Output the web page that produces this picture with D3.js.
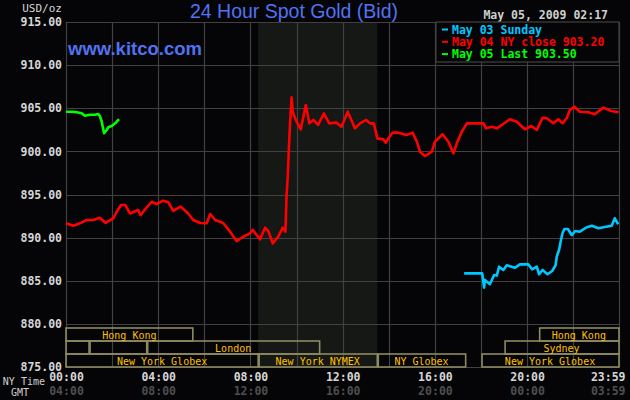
<!DOCTYPE html>
<html>
<head>
<meta charset="utf-8">
<script src="https://cdn.jsdelivr.net/npm/d3@7"></script>
<style>
  html, body { margin: 0; padding: 0; background: #050507; }
  svg { display: block; }
</style>
</head>
<body>
<div id="chart"></div>
<script>
// prices as [minutes after midnight NY time, USD/oz]
var nyClose = [[0,891.66],[19,891.38],[36,891.66],[54,892.04],[71,892.04],[88,892.31],[103,891.7],[123,892.24],[132,893.0],[143,893.78],[154,893.78],[167,892.8],[188,893.2],[194,892.6],[208,893.4],[223,894.16],[236,893.9],[253,894.28],[266,894.1],[279,893.1],[298,893.6],[318,892.8],[331,892.04],[349,891.7],[366,891.66],[375,892.74],[388,892.04],[409,891.7],[427,890.69],[444,889.6],[461,890.1],[479,890.5],[486,890.9],[496,890.3],[505,889.8],[518,891.15],[526,890.8],[538,889.34],[552,890.1],[564,891.15],[571,890.69],[574,894.94],[577,897.07],[580,900.36],[583,903.25],[587,906.27],[590,904.6],[600,903.44],[611,902.56],[624,905.38],[633,903.25],[644,903.64],[656,903.06],[671,904.41],[685,903.25],[704,903.33],[717,902.86],[733,904.6],[752,902.67],[765,903.25],[781,903.64],[791,903.25],[801,903.25],[810,901.51],[826,901.39],[832,901.0],[843,901.78],[850,902.17],[865,902.17],[886,901.9],[902,902.17],[913,901.12],[921,899.96],[934,899.46],[952,899.96],[960,901.12],[980,901.98],[995,901.12],[1008,899.77],[1017,900.93],[1030,902.28],[1043,903.25],[1060,903.25],[1086,903.25],[1093,902.67],[1108,902.86],[1121,902.67],[1134,903.06],[1155,903.72],[1173,903.44],[1194,902.56],[1211,902.94],[1225,902.48],[1240,903.9],[1251,903.84],[1268,903.25],[1281,903.72],[1292,903.25],[1303,903.84],[1311,904.8],[1323,905.18],[1337,904.6],[1359,904.53],[1376,904.3],[1398,905.07],[1416,904.72],[1438,904.53]];
var sunday = [[1036,885.86],[1083,885.86],[1088,884.2],[1090,885.1],[1103,884.6],[1114,885.67],[1121,885.6],[1127,886.63],[1138,886.25],[1147,886.8],[1168,886.5],[1181,886.9],[1203,886.9],[1213,886.33],[1225,886.63],[1231,885.75],[1240,886.25],[1253,885.75],[1265,886.13],[1274,886.8],[1277,887.79],[1283,888.57],[1288,889.72],[1292,890.5],[1297,891.0],[1306,891.0],[1316,890.3],[1325,890.77],[1337,890.69],[1355,891.2],[1369,891.38],[1385,891.08],[1402,891.23],[1420,891.38],[1428,892.24],[1437,891.55]];
var today = [[0,904.6],[15,904.6],[28,904.53],[41,904.41],[49,904.14],[62,904.25],[75,904.25],[84,904.33],[88,904.1],[93,903.44],[99,902.1],[106,902.48],[110,902.79],[119,902.94],[128,903.25],[138,903.75]];

var legendLabels = ["May 03 Sunday", "May 04 NY close 903.20", "May 05 Last 903.50"];
var priceTicks = [875, 880, 885, 890, 895, 900, 905, 910, 915];
var nyTicks = [0, 240, 480, 720, 960, 1200, 1439];
var nyTickLabels = ["00:00", "04:00", "08:00", "12:00", "16:00", "20:00", "23:59"];
var gmtTickLabels = ["04:00", "08:00", "12:00", "16:00", "20:00", "00:00", "03:59"];

// trading sessions: [row, start min, end min, name]
var sessions = [
  [0, 0, 330, "Hong Kong"], [0, 1230, 1439, "Hong Kong"],
  [1, 0, 60, ""], [1, 60, 210, ""], [1, 210, 660, "London"], [1, 1140, 1439, "Sydney"],
  [2, 0, 500, "New York Globex"], [2, 500, 810, "New York NYMEX"],
  [2, 810, 1040, "NY Globex"], [2, 1080, 1439, "New York Globex"]
];
var nymexHours = [500, 810];

(function () {
    var W = 630, H = 400;
    var pLeft = 66, pRight = 619, pTop = 22, pBottom = 367;
    var mono = "'DejaVu Sans Mono', monospace";
    var blue = "#5272f2";

    var x = d3.scaleLinear().domain([0, 1439]).range([pLeft, pRight]);
    var y = d3.scaleLinear().domain([875, 915]).range([pBottom, pTop]);

    var svg = d3.select("#chart").append("svg")
        .attr("width", W).attr("height", H);

    svg.append("rect").attr("width", W).attr("height", H).attr("fill", "#050507");

    // NYMEX pit hours shading
    svg.append("rect")
        .attr("x", x(nymexHours[0])).attr("y", pTop)
        .attr("width", x(nymexHours[1]) - x(nymexHours[0]))
        .attr("height", pBottom - pTop)
        .attr("fill", "#151815");

    // grid
    var grid = svg.append("g").attr("stroke", "#414141").attr("stroke-width", 1.2);
    grid.selectAll(".h").data(priceTicks).enter().append("line")
        .attr("x1", pLeft).attr("x2", pRight)
        .attr("y1", function (d) { return Math.round(y(d)) + 0.5; })
        .attr("y2", function (d) { return Math.round(y(d)) + 0.5; });
    grid.selectAll(".v").data(d3.range(0, 1440, 120).concat([1439])).enter().append("line")
        .attr("y1", pTop).attr("y2", pBottom)
        .attr("x1", function (d) { return Math.round(x(d)) + 0.5; })
        .attr("x2", function (d) { return Math.round(x(d)) + 0.5; });

    // session boxes
    var rowTop = 328, rowH = 13;
    var sess = svg.append("g");
    sess.selectAll("rect").data(sessions).enter().append("rect")
        .attr("x", function (d) { return x(d[1]) + (d[1] > 0 ? 1 : 0); })
        .attr("y", function (d) { return rowTop + d[0] * rowH; })
        .attr("width", function (d) { return x(d[2]) - x(d[1]) - (d[1] > 0 ? 1 : 0); })
        .attr("height", rowH)
        .attr("fill", "none")
        .attr("stroke", "#8e8a62")
        .attr("stroke-width", 1.6);
    sess.selectAll("text").data(sessions).enter().append("text")
        .attr("x", function (d) { return (x(d[1]) + x(d[2])) / 2; })
        .attr("y", function (d) { return rowTop + d[0] * rowH + rowH / 2 + 0.5; })
        .attr("text-anchor", "middle")
        .attr("dominant-baseline", "central")
        .attr("font-family", mono)
        .attr("font-size", "10px")
        .attr("fill", "#ffc000")
        .text(function (d) { return d[3]; });

    // price lines
    var line = d3.line()
        .x(function (d) { return x(d[0]); })
        .y(function (d) { return y(d[1]); });

    svg.append("clipPath").attr("id", "plot").append("rect")
        .attr("x", pLeft).attr("y", pTop).attr("width", pRight - pLeft).attr("height", pBottom - pTop);

    var series = [[sunday, "#00c8ff"], [nyClose, "#ff0000"], [today, "#00ff00"]];
    svg.append("g").attr("clip-path", "url(#plot)")
        .selectAll("path").data(series).enter().append("path")
        .attr("d", function (d) { return line(d[0]); })
        .attr("fill", "none")
        .attr("stroke", function (d) { return d[1]; })
        .attr("stroke-width", 2.6)
        .attr("stroke-linejoin", "round");

    // y axis labels
    var yAxis = svg.append("g")
        .attr("transform", "translate(" + (pLeft - 4) + ",0)")
        .call(d3.axisLeft(y).tickValues(priceTicks).tickSize(0).tickPadding(0)
            .tickFormat(d3.format(".2f")));
    yAxis.select(".domain").remove();
    yAxis.selectAll("text")
        .attr("font-family", mono).attr("font-size", "11.5px").attr("font-weight", "bold")
        .attr("fill", "#d6d6d6");

    // x axis labels (NY time and GMT)
    function timeAxis(labels, dy, colour) {
        var g = svg.append("g")
            .attr("transform", "translate(0," + (pBottom + dy) + ")")
            .call(d3.axisBottom(x).tickValues(nyTicks).tickSize(0).tickPadding(0)
                .tickFormat(function (d, i) { return labels[i]; }));
        g.select(".domain").remove();
        g.selectAll("text")
            .attr("font-family", mono).attr("font-size", "11.5px").attr("font-weight", "bold")
            .attr("fill", colour);
        // last label sits inside the window
        g.selectAll(".tick:last-of-type text").attr("text-anchor", "end").attr("dx", 6);
    }
    timeAxis(nyTickLabels, 6, "#d6d6d6");
    timeAxis(gmtTickLabels, 20, "#4e4e4e");

    svg.append("text").attr("x", 45).attr("y", 385).attr("text-anchor", "end")
        .attr("font-family", mono).attr("font-size", "10px").attr("fill", "#cfcfcf")
        .text("NY Time");
    svg.append("text").attr("x", 29).attr("y", 396).attr("text-anchor", "end")
        .attr("font-family", mono).attr("font-size", "10px").attr("fill", "#cfcfcf")
        .text("GMT");

    // headings
    svg.append("text").attr("x", 62).attr("y", 12).attr("text-anchor", "end")
        .attr("font-family", mono).attr("font-size", "11px").attr("fill", "#d6d6d6")
        .text("USD/oz");
    svg.append("text").attr("x", 294).attr("y", 17.5).attr("text-anchor", "middle")
        .attr("font-family", "'Liberation Sans', Arial, sans-serif").attr("font-size", "19.5px")
        .attr("fill", blue)
        .text("24 Hour Spot Gold (Bid)");
    svg.append("text").attr("x", 68).attr("y", 55)
        .attr("font-family", "'Liberation Sans', Arial, sans-serif").attr("font-size", "18.5px")
        .attr("font-weight", "bold").attr("fill", blue)
        .text("www.kitco.com");
    svg.append("text").attr("x", 608).attr("y", 19).attr("text-anchor", "end")
        .attr("font-family", mono).attr("font-size", "11.5px").attr("font-weight", "bold")
        .attr("fill", "#cfcfcf")
        .text("May 05, 2009 02:17");

    // legend
    var lg = svg.append("g");
    lg.append("rect")
        .attr("x", 436).attr("y", pTop).attr("width", pRight - 436).attr("height", 40)
        .attr("fill", "#050507").attr("stroke", "#414141").attr("stroke-width", 1.2);
    var items = lg.selectAll(".item").data(legendLabels).enter().append("g")
        .attr("transform", function (d, i) { return "translate(442," + (29.5 + i * 12.3) + ")"; });
    items.append("line").attr("x1", 0).attr("x2", 6)
        .attr("stroke", function (d, i) { return series[i][1]; }).attr("stroke-width", 2);
    items.append("text").attr("x", 10).attr("dy", "0.35em")
        .attr("font-family", mono).attr("font-size", "11.5px").attr("font-weight", "bold")
        .attr("fill", function (d, i) { return series[i][1]; })
        .text(function (d) { return d; });
})();
</script>
</body>
</html>
